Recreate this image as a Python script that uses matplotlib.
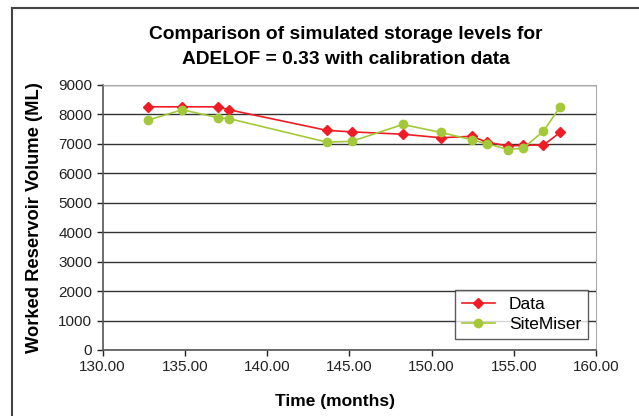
import matplotlib.pyplot as plt
from matplotlib.lines import Line2D

plt.rcParams['font.family'] = ['Liberation Sans', 'DejaVu Sans']

# Time of each reading (months)
meses = [132.77, 134.84, 137.00, 137.68, 143.64, 145.15, 148.25,
         150.56, 152.46, 153.36, 154.67, 155.58, 156.80, 157.82]
# Observed storage (ML)
dados = [8250, 8250, 8250, 8150, 7450, 7400, 7320,
         7200, 7250, 7050, 6920, 6950, 6950, 7380]
# SiteMiser simulated storage (ML)
sitemiser = [7800, 8150, 7880, 7850, 7050, 7080, 7650,
             7380, 7130, 7000, 6800, 6850, 7420, 8250]

xticks = [130, 135, 140, 145, 150, 155, 160]
yticks = list(range(0, 9001, 1000))

fig = plt.figure(figsize=(6.39, 4.16), dpi=100)
ax = fig.add_axes([0.1607, 0.1587, 0.7720, 0.6377])

ax.plot(meses, dados, color='#ee1c25', lw=1.2, marker='D', ms=5,
        label='Data', zorder=3)
ax.plot(meses, sitemiser, color='#a3c93a', lw=1.2, marker='o', ms=6,
        label='SiteMiser', zorder=3)

ax.set_xlim(130, 160)
ax.set_ylim(0, 9000)
ax.set_xticks(xticks)
ax.set_xticklabels([f'{v:.2f}' for v in xticks])
ax.set_yticks(yticks)
ax.tick_params(labelsize=11, colors='#222222', length=4, width=1)
ax.grid(axis='y', color='#333333', lw=1)
ax.set_axisbelow(True)

for lado in ['top', 'right']:
    ax.spines[lado].set_color('#aaaaaa')
for lado in ['left', 'bottom']:
    ax.spines[lado].set_color('#555555')
    ax.spines[lado].set_linewidth(1.2)

ax.set_xlabel('Time (months)', fontsize=12.5, fontweight='bold')
ax.xaxis.set_label_coords(0.47, -0.165)
ax.set_ylabel('Worked Reservoir Volume (ML)', fontsize=13.2, fontweight='bold')
ax.yaxis.set_label_coords(-0.122, 0.5)

fig.text(0.541, 0.887, 'Comparison of simulated storage levels for\n'
         'ADELOF = 0.33 with calibration data', ha='center', va='center',
         fontsize=13.8, fontweight='bold', linespacing=1.6)

leg = ax.legend(loc='lower right', bbox_to_anchor=(0.9838, 0.042),
                fontsize=12.5, frameon=True, fancybox=False,
                edgecolor='#333333', borderpad=0.4, handlelength=1.9,
                labelspacing=0.25, borderaxespad=0)
leg.get_frame().set_linewidth(1)

# moldura externa (esquerda e topo)
fig.add_artist(Line2D([12 / 639, 12 / 639], [0, 1 - 8 / 416],
                      transform=fig.transFigure, color='#444444', lw=1.5))
fig.add_artist(Line2D([12 / 639, 1], [1 - 8 / 416, 1 - 8 / 416],
                      transform=fig.transFigure, color='#444444', lw=1.5))

fig.savefig('out.png', dpi=100)
